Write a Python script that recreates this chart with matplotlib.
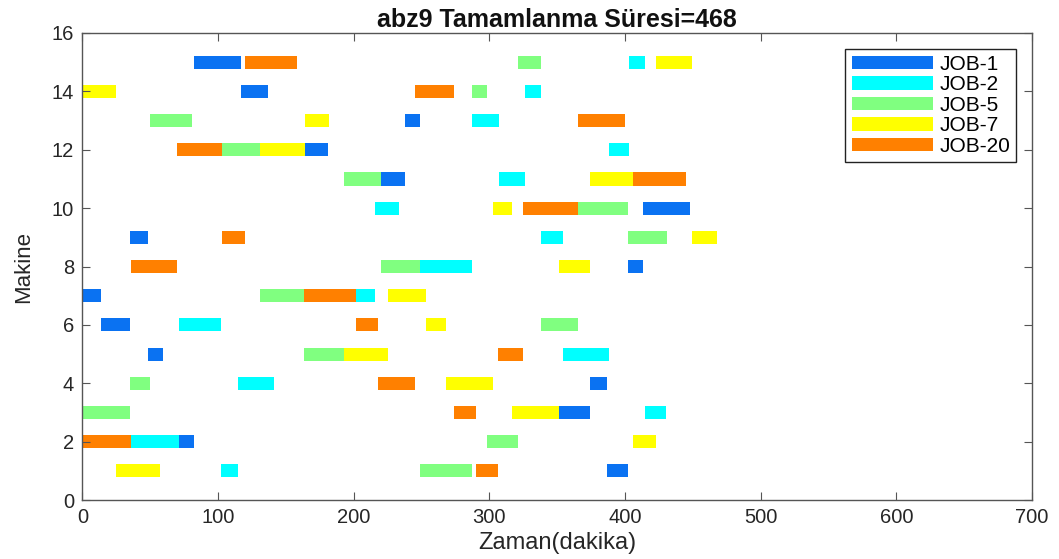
import matplotlib
matplotlib.use("Agg")
import matplotlib.pyplot as plt
from matplotlib.patches import Patch

plt.rcParams['font.family'] = ['Liberation Sans', 'DejaVu Sans']

# Schedule of the shown jobs: machine index, start and end time (minutes)
job_names = ["JOB-1", "JOB-2", "JOB-5", "JOB-7", "JOB-20"]
job_colors = ["#0A72F2", "#00FFFF", "#80FF80", "#FFFF00", "#FF8000"]

job1_machines = [7, 6, 9, 5, 2, 15, 14, 12, 11, 13, 3, 4, 1, 8, 10]
job1_starts   = [0, 14, 35, 48, 71, 82, 117, 164, 220, 238, 351, 374, 387, 402, 413]
job1_ends     = [14, 35, 48, 59, 82, 117, 137, 181, 238, 249, 374, 387, 402, 413, 448]

job2_machines = [2, 6, 1, 4, 7, 10, 8, 13, 11, 14, 9, 5, 12, 15, 3]
job2_starts   = [36, 71, 102, 115, 202, 216, 249, 287, 307, 326, 338, 354, 388, 403, 415]
job2_ends     = [71, 102, 115, 141, 216, 233, 287, 307, 326, 338, 354, 388, 403, 415, 430]

job5_machines = [3, 4, 13, 12, 7, 5, 11, 8, 1, 14, 2, 15, 6, 10, 9]
job5_starts   = [0, 35, 50, 103, 131, 163, 193, 220, 249, 287, 298, 321, 338, 365, 402]
job5_ends     = [35, 50, 81, 131, 163, 193, 220, 249, 287, 298, 321, 338, 365, 402, 431]

job7_machines = [14, 1, 12, 13, 5, 7, 6, 4, 10, 3, 8, 11, 2, 15, 9]
job7_starts   = [0, 25, 131, 164, 193, 225, 253, 268, 303, 317, 351, 374, 406, 423, 449]
job7_ends     = [25, 57, 164, 182, 225, 253, 268, 303, 317, 351, 374, 406, 423, 449, 468]

job20_machines = [2, 8, 12, 9, 15, 7, 6, 4, 14, 3, 1, 5, 10, 13, 11]
job20_starts   = [0, 36, 70, 103, 120, 163, 202, 218, 245, 274, 290, 306, 325, 365, 406]
job20_ends     = [36, 70, 103, 120, 158, 202, 218, 245, 274, 290, 306, 325, 365, 400, 445]

makespan = 468
x_ticks = [0, 100, 200, 300, 400, 500, 600, 700]
y_ticks = [0, 2, 4, 6, 8, 10, 12, 14, 16]

jobs = [
    (job1_machines, job1_starts, job1_ends),
    (job2_machines, job2_starts, job2_ends),
    (job5_machines, job5_starts, job5_ends),
    (job7_machines, job7_starts, job7_ends),
    (job20_machines, job20_starts, job20_ends),
]

fig = plt.figure(figsize=(10.59, 5.59), dpi=100)
ax = fig.add_axes([0.0779, 0.1055, 0.8966, 0.8355])

bar_h = 0.45
for (machines, starts, ends), color in zip(jobs, job_colors):
    widths = [e - s for s, e in zip(starts, ends)]
    ax.barh(machines, widths, left=starts, height=bar_h, color=color,
            edgecolor='none', linewidth=0)

ax.set_xlim(0, 700)
ax.set_ylim(0, 16)
ax.set_xticks(x_ticks)
ax.set_yticks(y_ticks)

axis_color = "#262626"
for sp in ax.spines.values():
    sp.set_color("#555555")
    sp.set_linewidth(1.0)
ax.tick_params(axis='both', which='both', direction='in', length=6, width=0.8,
               colors="#555555", labelcolor=axis_color, labelsize=14.5,
               top=True, right=True, pad=6)

ax.set_title(f"abz9 Tamamlanma Süresi={makespan}", fontsize=18,
             fontweight='bold', color='#111111', pad=4)
ax.set_xlabel("Zaman(dakika)", fontsize=17, color=axis_color, labelpad=3)
ax.set_ylabel("Makine", fontsize=16, color=axis_color, labelpad=13)

handles = [Patch(facecolor=c, edgecolor='none') for c in job_colors]
leg = ax.legend(handles, job_names, loc='upper right', fontsize=15,
                frameon=True, fancybox=False, framealpha=1,
                edgecolor='#222222', handlelength=3.9, handleheight=0.6,
                handletextpad=0.3, labelspacing=0.07, borderpad=0.3,
                borderaxespad=0.75)
leg.get_frame().set_linewidth(1.0)

fig.savefig("out.png", dpi=100, facecolor='white')
